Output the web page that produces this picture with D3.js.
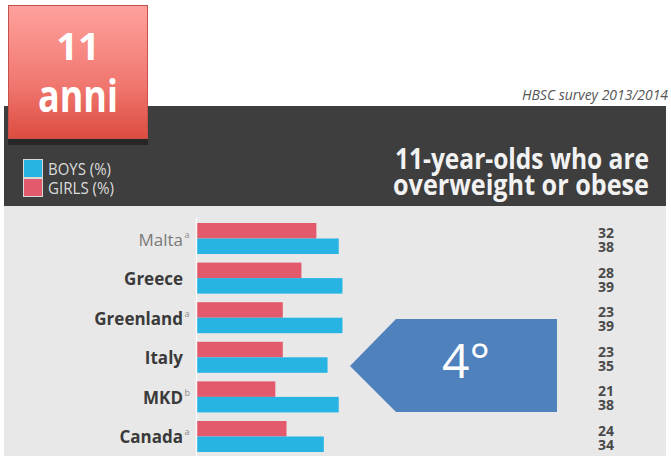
<!DOCTYPE html>
<html><head><meta charset="utf-8">
<script src="https://cdn.jsdelivr.net/npm/d3@7"></script>
<style>html,body{margin:0;padding:0;background:#fff;}svg{display:block;}</style>
</head><body>
<script>
const countries = ["Malta","Greece","Greenland","Italy","MKD","Canada"];
const superscripts = ["a","","a","","b","a"];
const girls = [32,28,23,23,21,24];
const boys = [38,39,39,35,38,34];
const seriesNames = ["GIRLS (%)","BOYS (%)"];

const W = 671, H = 456;
const svg = d3.select("body").append("svg").attr("width", W).attr("height", H);
const defs = svg.append("defs");
const grad = defs.append("linearGradient").attr("id","redg").attr("x1",0).attr("y1",0).attr("x2",0).attr("y2",1);
grad.append("stop").attr("offset","0%").attr("stop-color","#ffa19d");
grad.append("stop").attr("offset","60%").attr("stop-color","#f0776f");
grad.append("stop").attr("offset","100%").attr("stop-color","#dc4c40");

// backgrounds
svg.append("rect").attr("x",0).attr("y",0).attr("width",W).attr("height",H).attr("fill","#ffffff");
svg.append("rect").attr("x",4).attr("y",206).attr("width",662).attr("height",H-206).attr("fill","#e8e8e8");
svg.append("rect").attr("x",4).attr("y",106).attr("width",662).attr("height",100).attr("fill","#3e3e3e");

// HBSC
svg.append("text").attr("x",668).attr("y",100).attr("text-anchor","end")
  .attr("font-family","Open Sans").attr("font-style","italic").attr("font-size",14).attr("fill","#555")
  .attr("textLength",146).attr("lengthAdjust","spacingAndGlyphs").text("HBSC survey 2013/2014");

// red box
svg.append("rect").attr("x",8).attr("y",139).attr("width",140).attr("height",6).attr("fill","#262626");
svg.append("rect").attr("x",8.5).attr("y",5.5).attr("width",139).attr("height",133)
  .attr("fill","url(#redg)").attr("stroke","#c8504a").attr("stroke-width",1);
svg.append("text").attr("x",78).attr("y",60).attr("text-anchor","middle")
  .attr("font-family","Open Sans").attr("font-weight",700).attr("font-size",38).attr("fill","#fff").text("11");
svg.append("text").attr("x",78).attr("y",112).attr("text-anchor","middle")
  .attr("font-family","Open Sans").attr("font-weight",700).attr("font-size",44).attr("fill","#fff")
  .attr("textLength",80).attr("lengthAdjust","spacingAndGlyphs").text("anni");

// legend
const legColors = {"BOYS (%)":"#27b4e3","GIRLS (%)":"#e35a6d"};
const legOrder = ["BOYS (%)","GIRLS (%)"];
legOrder.forEach((n,i)=>{
  svg.append("rect").attr("x",23.5).attr("y",159.5+i*19).attr("width",19).attr("height",18)
    .attr("fill",legColors[n]).attr("stroke","#d8d8d8").attr("stroke-width",1);
  svg.append("text").attr("x",48).attr("y",175+i*19)
    .attr("font-family","Open Sans").attr("font-size",17).attr("fill","#dcdcdc")
    .attr("textLength", i===0?63:66).attr("lengthAdjust","spacingAndGlyphs").text(n);
});

// title
svg.append("text").attr("x",649).attr("y",169).attr("text-anchor","end")
  .attr("font-family","Open Sans").attr("font-weight",700).attr("font-size",28).attr("fill","#f2f2f2")
  .attr("textLength",254).attr("lengthAdjust","spacingAndGlyphs").text("11-year-olds who are");
svg.append("text").attr("x",649).attr("y",195).attr("text-anchor","end")
  .attr("font-family","Open Sans").attr("font-weight",700).attr("font-size",28).attr("fill","#f2f2f2")
  .attr("textLength",256).attr("lengthAdjust","spacingAndGlyphs").text("overweight or obese");

// scales
const x = d3.scaleLinear().domain([0,40]).range([197, 197+149.2]);
const y = d3.scaleBand().domain(countries).range([223, 452]).paddingInner(0.217).paddingOuter(0);
const ySub = d3.scaleBand().domain(["girls","boys"]).range([0, y.bandwidth()]);
const colors = {girls:"#e35a6d", boys:"#27b4e3"};

const rows = svg.append("g").selectAll("g").data(countries).join("g")
  .attr("transform", d=>`translate(0,${y(d)})`);
rows.selectAll("rect").data((d,i)=>[{k:"girls",v:girls[i]},{k:"boys",v:boys[i]}]).join("rect")
  .attr("x", x(0)).attr("y", d=>ySub(d.k)).attr("width", d=>x(d.v)-x(0)).attr("height", ySub.bandwidth())
  .attr("fill", d=>colors[d.k]);
svg.append("line").attr("x1",x(0)-0.5).attr("x2",x(0)-0.5).attr("y1",218).attr("y2",456)
  .attr("stroke","#ffffff").attr("stroke-width",1.5).attr("opacity",0.8);

// labels
rows.each(function(d,i){
  const g = d3.select(this);
  const t = g.append("text").attr("x",183).attr("y",y.bandwidth()/2+7).attr("text-anchor","end")
    .attr("font-family","Open Sans").attr("font-size",17)
    .attr("font-weight", i===0?400:700).attr("fill", i===0?"#7a7a7a":"#3a3a3a").text(d);
  if (superscripts[i]) {
    g.append("text").attr("x",184.5).attr("y",y.bandwidth()/2-1)
      .attr("font-family","Open Sans").attr("font-size",9).attr("fill","#8a8a8a").text(superscripts[i]);
  }
  g.append("text").attr("x",606).attr("y",15).attr("text-anchor","middle")
    .attr("font-family","Open Sans").attr("font-weight",700).attr("font-size",15).attr("fill","#4a4a4a")
    .attr("textLength",16).attr("lengthAdjust","spacingAndGlyphs").text(girls[i]);
  g.append("text").attr("x",606).attr("y",29).attr("text-anchor","middle")
    .attr("font-family","Open Sans").attr("font-weight",700).attr("font-size",15).attr("fill","#4a4a4a")
    .attr("textLength",16).attr("lengthAdjust","spacingAndGlyphs").text(boys[i]);
});

// arrow
const arrowPts = [[350,366],[396,319],[557,319],[557,412],[396,412]];
svg.append("polygon").attr("points", arrowPts.map(p=>p.join(",")).join(" ")).attr("fill","#4f81bd");
svg.append("text").attr("x",466).attr("y",378).attr("text-anchor","middle")
  .attr("font-family","Open Sans").attr("font-size",48).attr("fill","#ffffff").text("4°");
</script>
</body></html>
